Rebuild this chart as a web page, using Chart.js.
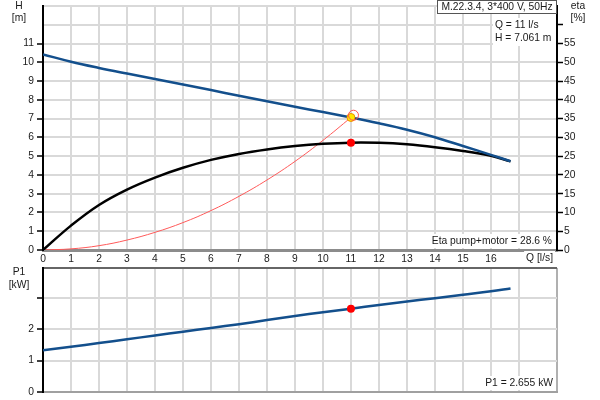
<!DOCTYPE html>
<html>
<head>
<meta charset="utf-8">
<script src="https://cdn.jsdelivr.net/npm/chart.js@4.4.1/dist/chart.umd.min.js"></script>
<style>
  html, body { margin: 0; padding: 0; background: #fff; }
  #wrap { position: relative; width: 600px; height: 400px; }
  .box { position: absolute; left: 0; width: 600px; }
  #top-box { top: 0; height: 270px; z-index: 2; }
  #bot-box { top: 262px; height: 138px; z-index: 1; }
</style>
</head>
<body>
<div id="wrap">
  <div id="top-box" class="box"><canvas id="pump-chart"></canvas></div>
  <div id="bot-box" class="box"><canvas id="power-chart"></canvas></div>
</div>
<script>
// 流量 Q [l/s]
const flowQ = [0, 1, 2, 3, 4, 5, 6, 7, 8, 9, 10, 11, 12, 13, 14, 15, 16, 16.7];
// 揚程 H [m]
const headH = [10.42, 10.03, 9.70, 9.40, 9.11, 8.82, 8.52, 8.22, 7.92, 7.63, 7.35, 7.061, 6.75, 6.41, 6.01, 5.54, 5.07, 4.73];
// 効率 eta pump+motor [%]
const etaTotal = [0, 6.5, 12.0, 16.1, 19.3, 21.9, 24.0, 25.6, 26.8, 27.7, 28.3, 28.6, 28.55, 28.15, 27.4, 26.4, 25.1, 23.6];
// 入力 P1 [kW]
const powerP1 = [1.33, 1.44, 1.56, 1.68, 1.80, 1.92, 2.04, 2.16, 2.29, 2.42, 2.54, 2.655, 2.77, 2.88, 2.99, 3.10, 3.21, 3.30];
// システムカーブ
const systemQ = [0, 1, 2, 3, 4, 5, 6, 7, 8, 9, 10, 11];
const systemH = [0, 0.06, 0.23, 0.53, 0.94, 1.46, 2.1, 2.86, 3.73, 4.72, 5.84, 7.061];

// 運転点
const dutyQ = 11;
const dutyH = 7.061;
const dutyEta = 28.6;
const dutyP1 = 2.655;

// 軸の範囲・ラベル上限
const qMax = 18.36;
const hMax = 13;
const etaMax = 65;
const p1Max = 3.95;
const qLabelMax = 16;
const hLabelMax = 11;
const etaLabelMax = 55;
const p1LabelMax = 2;

const FONT = '"Liberation Sans", Arial, sans-serif';
const FONT_SIZE = 10.3;
const TEXT = '#1a1a1a';
const GRID = '#d9d9d9';
const BLUE = '#134f8c';

Chart.defaults.font.family = FONT;
Chart.defaults.font.size = FONT_SIZE;
Chart.defaults.color = TEXT;

const toXY = (xs, ys) => xs.map((x, i) => ({ x: x, y: ys[i] }));

/**
 * 軸の幅(高さ)を固定して余白を消す
 */
function fixedSize(size, vertical) {
    return (scale) => {
        if (vertical) scale.width = size; else scale.height = size;
        scale.paddingTop = 0;
        scale.paddingBottom = 0;
        scale.paddingLeft = 0;
        scale.paddingRight = 0;
    };
}

/**
 * テキスト描画プラグイン
 */
function textPlugin(id, items) {
    return {
        id: id,
        afterDraw(chart) {
            const ctx = chart.ctx;
            ctx.save();
            ctx.font = FONT_SIZE + 'px ' + FONT;
            ctx.textBaseline = 'middle';
            items.forEach((t) => {
                if (t.rect) {
                    ctx.fillStyle = '#fff';
                    ctx.fillRect(t.rect[0], t.rect[1], t.rect[2], t.rect[3]);
                    if (t.border) {
                        ctx.strokeStyle = '#555';
                        ctx.lineWidth = 1;
                        ctx.strokeRect(t.rect[0] + 0.5, t.rect[1] + 0.5, t.rect[2] - 1, t.rect[3] - 1);
                    }
                }
                if (t.bg) {
                    const w = ctx.measureText(t.text).width;
                    let left = t.x;
                    if (t.align === 'right') left = t.x - w;
                    if (t.align === 'center') left = t.x - w / 2;
                    ctx.fillStyle = '#fff';
                    ctx.fillRect(left - 2, t.y - 7, w + 4, 14);
                }
                ctx.fillStyle = TEXT;
                ctx.textAlign = t.align || 'left';
                ctx.fillText(t.text, t.x, t.y);
            });
            ctx.restore();
        }
    };
}

const topTexts = [
    { text: 'H', x: 19, y: 6, align: 'center' },
    { text: '[m]', x: 19, y: 18, align: 'center' },
    { text: 'eta', x: 578, y: 6, align: 'center' },
    { text: '[%]', x: 578, y: 18, align: 'center' },
    { text: 'M.22.3.4, 3*400 V, 50Hz', x: 497, y: 7, align: 'center', rect: [437, 0, 120, 14], border: true },
    { text: 'Q = 11 l/s', x: 495, y: 25, rect: [493, 18, 63, 28] },
    { text: 'H = 7.061 m', x: 495, y: 38 },
    { text: 'Eta pump+motor = 28.6 %', x: 552, y: 241, align: 'right', bg: true },
    { text: 'Q [l/s]', x: 553, y: 258, align: 'right', bg: true },
];

const botTexts = [
    { text: 'P1', x: 19, y: 10, align: 'center' },
    { text: '[kW]', x: 19, y: 23, align: 'center' },
    { text: 'P1 = 2.655 kW', x: 553, y: 121, align: 'right', bg: true },
];

// 上段: H / eta
new Chart(document.getElementById('pump-chart'), {
    type: 'line',
    data: {
        datasets: [
            {
                label: 'duty ring',
                data: [{ x: dutyQ + 0.09, y: dutyH + 0.12 }],
                showLine: false,
                pointRadius: 5,
                pointBackgroundColor: 'rgba(0,0,0,0)',
                pointBorderColor: '#ff5050',
                pointBorderWidth: 1,
                yAxisID: 'y',
            },
            {
                label: 'duty H',
                data: [{ x: dutyQ, y: dutyH }],
                showLine: false,
                pointRadius: 4,
                pointBackgroundColor: '#ffe800',
                pointBorderColor: '#f09000',
                pointBorderWidth: 1,
                yAxisID: 'y',
            },
            {
                label: 'duty eta',
                data: [{ x: dutyQ, y: dutyEta }],
                showLine: false,
                pointRadius: 4,
                pointBackgroundColor: '#ff0000',
                pointBorderWidth: 0,
                yAxisID: 'y1',
            },
            {
                label: 'H',
                data: toXY(flowQ, headH),
                borderColor: BLUE,
                borderWidth: 2.5,
                pointRadius: 0,
                tension: 0.4,
                yAxisID: 'y',
            },
            {
                label: 'eta',
                data: toXY(flowQ, etaTotal),
                borderColor: '#000',
                borderWidth: 2.5,
                pointRadius: 0,
                tension: 0.4,
                yAxisID: 'y1',
            },
            {
                label: 'system',
                data: toXY(systemQ, systemH),
                borderColor: '#ff5a5a',
                borderWidth: 1,
                pointRadius: 0,
                tension: 0.4,
                yAxisID: 'y',
            },
        ],
    },
    options: {
        responsive: true,
        maintainAspectRatio: false,
        animation: false,
        layout: { padding: 0 },
        plugins: { legend: { display: false }, tooltip: { enabled: false } },
        scales: {
            x: {
                type: 'linear',
                min: 0,
                max: qMax,
                afterFit: fixedSize(20, false),
                border: { color: '#8c8c8c', width: 3 },
                grid: { color: GRID, lineWidth: 2, drawTicks: false },
                ticks: {
                    stepSize: 1,
                    autoSkip: false,
                    maxRotation: 0,
                    padding: 3,
                    callback: (v) => (Number.isInteger(v) && v <= qLabelMax) ? v : '',
                },
            },
            y: {
                position: 'left',
                min: 0,
                max: hMax,
                afterFit: fixedSize(43, true),
                border: { color: '#000', width: 2 },
                grid: {
                    color: GRID,
                    lineWidth: 2,
                    tickLength: 6,
                    tickWidth: 1.5,
                    tickColor: (c) => (c.tick && c.tick.value <= hLabelMax) ? '#000' : 'rgba(0,0,0,0)',
                },
                ticks: {
                    stepSize: 1,
                    padding: 3,
                    callback: (v) => v <= hLabelMax ? v : '',
                },
            },
            y1: {
                position: 'right',
                min: 0,
                max: etaMax,
                afterFit: fixedSize(43, true),
                border: { color: '#000', width: 2 },
                grid: {
                    drawOnChartArea: false,
                    tickLength: 6,
                    tickWidth: 1.5,
                    tickColor: (c) => (c.tick && c.tick.value < etaMax) ? '#000' : 'rgba(0,0,0,0)',
                },
                ticks: {
                    stepSize: 5,
                    padding: 1,
                    callback: (v) => v <= etaLabelMax ? v : '',
                },
            },
        },
    },
    plugins: [textPlugin('topTexts', topTexts)],
});

// 下段: P1
new Chart(document.getElementById('power-chart'), {
    type: 'line',
    data: {
        datasets: [
            {
                label: 'duty P1',
                data: [{ x: dutyQ, y: dutyP1 }],
                showLine: false,
                pointRadius: 4,
                pointBackgroundColor: '#ff0000',
                pointBorderWidth: 0,
            },
            {
                label: 'P1',
                data: toXY(flowQ, powerP1),
                borderColor: BLUE,
                borderWidth: 2.5,
                pointRadius: 0,
                tension: 0.4,
            },
        ],
    },
    options: {
        responsive: true,
        maintainAspectRatio: false,
        animation: false,
        layout: { padding: { top: 6, bottom: 8, right: 43, left: 0 } },
        plugins: { legend: { display: false }, tooltip: { enabled: false } },
        scales: {
            x: {
                type: 'linear',
                min: 0,
                max: qMax,
                afterFit: fixedSize(0, false),
                border: { color: '#a0a0a0', width: 2 },
                grid: {
                    color: (c) => (c.tick && c.tick.value === qMax) ? '#b0b0b0' : GRID,
                    lineWidth: 2,
                    drawTicks: false,
                },
                ticks: { display: false, stepSize: 1, autoSkip: false },
            },
            y: {
                position: 'left',
                min: 0,
                max: p1Max,
                afterFit: fixedSize(43, true),
                border: { color: '#000', width: 2 },
                grid: {
                    color: (c) => (c.tick && c.tick.value === p1Max) ? '#666' : GRID,
                    lineWidth: 2,
                    tickLength: 6,
                    tickWidth: 1.5,
                    tickColor: (c) => (c.tick && c.tick.value < p1Max) ? '#000' : 'rgba(0,0,0,0)',
                },
                ticks: {
                    stepSize: 1,
                    padding: 3,
                    callback: (v) => v <= p1LabelMax ? v : '',
                },
            },
        },
    },
    plugins: [textPlugin('botTexts', botTexts)],
});
</script>
</body>
</html>
